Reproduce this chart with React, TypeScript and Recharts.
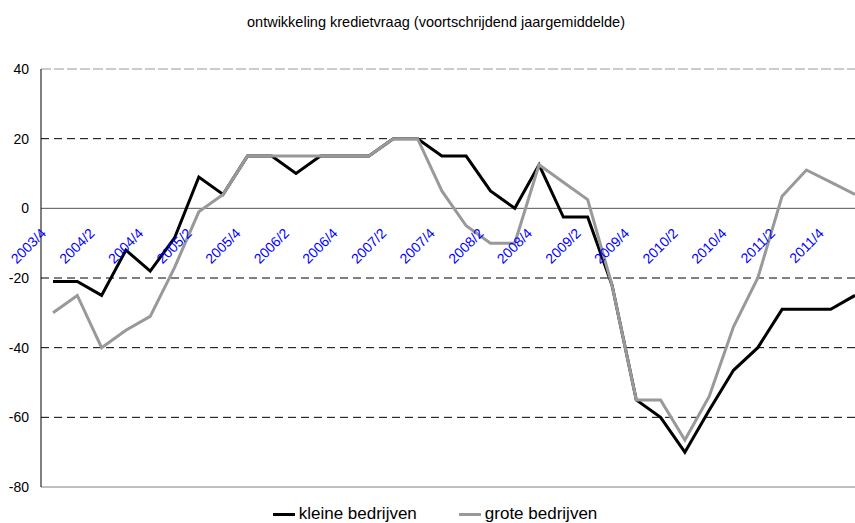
import { LineChart, Line, XAxis, YAxis, CartesianGrid, ReferenceLine, Legend } from "recharts";

// kwartalen (alleen elke tweede krijgt een label)
const QUARTERS = [
    "2003/4",
    "2004/1", "2004/2", "2004/3", "2004/4",
    "2005/1", "2005/2", "2005/3", "2005/4",
    "2006/1", "2006/2", "2006/3", "2006/4",
    "2007/1", "2007/2", "2007/3", "2007/4",
    "2008/1", "2008/2", "2008/3", "2008/4",
    "2009/1", "2009/2", "2009/3", "2009/4",
    "2010/1", "2010/2", "2010/3", "2010/4",
    "2011/1", "2011/2", "2011/3", "2011/4",
    "2012/1",
];

const KLEIN = [
    -21, -21, -25, -12, -18, -8.5, 9, 4, 15, 15, 10, 15, 15, 15, 20, 20, 15,
    15, 5, 0, 12.5, -2.5, -2.5, -22, -55, -60, -70, -58, -46.5, -40, -29, -29, -29, -25,
];

const GROOT = [
    -30, -25, -40, -35, -31, -17, -1, 4, 15, 15, 15, 15, 15, 15, 20, 20, 5,
    -5, -10, -10, 12.5, 7.5, 2.5, -22, -55, -55, -66.5, -54, -34, -20, 3.5, 11, 7.5, 4,
];

const SERIES_ORDER = ["klein", "groot"];
const Y_TICKS = [-80, -60, -40, -20, 0, 20, 40];
const GRID_VALUES = [20, -20, -40, -60];

const data = QUARTERS.map((q, i) => ({ q, klein: KLEIN[i], groot: GROOT[i] }));

const CHART_W = 870;
const CHART_H = 523;
const TOP = 69;
const BOTTOM = 36;
const PLOT_H = CHART_H - TOP - BOTTOM;
// de categorie-as snijdt de waarde-as bij 0
const ZERO_Y = TOP + PLOT_H * (40 / 120);

const QuarterTick = (props: any) => {
    const { x, payload } = props;
    const ax = x - 6;
    const ay = ZERO_Y + 26;
    return (
        <text x={ax} y={ay} transform={`rotate(-45 ${ax} ${ay})`} textAnchor="end" fill="#0000ff" fontSize={14}>
            {payload.value}
        </text>
    );
};

const renderLegend = (props: any) => {
    const items = [...(props.payload || [])].sort(
        (a: any, b: any) => SERIES_ORDER.indexOf(a.dataKey) - SERIES_ORDER.indexOf(b.dataKey)
    );
    return (
        <div style={{ display: "flex", justifyContent: "center", gap: 42, fontSize: 17, lineHeight: "20px", color: "#000" }}>
            {items.map((p: any) => (
                <span key={p.value} style={{ display: "inline-flex", alignItems: "center" }}>
                    <span style={{ display: "inline-block", width: 22, height: 3, background: p.color, marginRight: 4 }} />
                    {p.value}
                </span>
            ))}
        </div>
    );
};

export default function App() {
    return (
        <div
            style={{
                position: "fixed",
                left: 0,
                top: 0,
                width: 855,
                height: 523,
                overflow: "hidden",
                background: "#fff",
                fontFamily: "'Liberation Sans', Arial, sans-serif",
            }}
        >
            <div style={{ position: "absolute", top: 14, left: 0, width: 872, textAlign: "center", fontSize: 14.5, lineHeight: "17px" }}>
                ontwikkeling kredietvraag (voortschrijdend jaargemiddelde)
            </div>
            <LineChart width={CHART_W} height={CHART_H} data={data} margin={{ top: TOP, right: 3, bottom: 0, left: 0 }}>
                <CartesianGrid vertical={false} horizontalValues={GRID_VALUES} stroke="#000" strokeDasharray="8 5" />
                <ReferenceLine y={40} stroke="#999" strokeDasharray="10 3" />
                <ReferenceLine y={0} stroke="#555" />
                <XAxis
                    dataKey="q"
                    height={BOTTOM}
                    interval={1}
                    padding={{ left: 12, right: 12 }}
                    tickLine={false}
                    axisLine={{ stroke: "#808080" }}
                    tick={<QuarterTick />}
                />
                <YAxis
                    domain={[-80, 40]}
                    ticks={Y_TICKS}
                    width={41}
                    tickLine={false}
                    tickMargin={6}
                    axisLine={{ stroke: "#000" }}
                    tick={{ fill: "#000", fontSize: 14 }}
                />
                <Legend verticalAlign="middle" align="center" content={renderLegend} wrapperStyle={{ top: 504, left: 0, width: CHART_W }} />
                <Line name="kleine bedrijven" dataKey="klein" stroke="#000" strokeWidth={3} dot={false} isAnimationActive={false} />
                <Line name="grote bedrijven" dataKey="groot" stroke="#999" strokeWidth={3} dot={false} isAnimationActive={false} />
            </LineChart>
        </div>
    );
}
